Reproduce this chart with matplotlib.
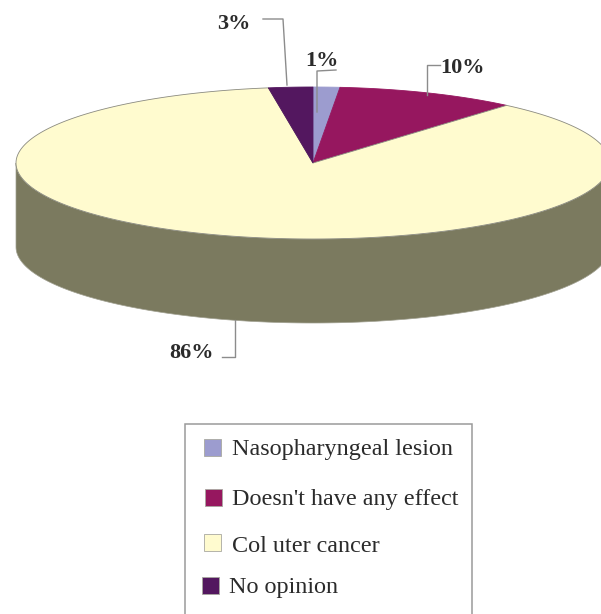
"""3D-style pie of survey answers, drawn as polygons on a pixel-sized axes."""

import numpy as np
import matplotlib
matplotlib.use("Agg")
import matplotlib.pyplot as plt
from matplotlib.patches import Rectangle

categories = ["Nasopharyngeal lesion", "Doesn't have any effect", "Col uter cancer", "No opinion"]
# slice sizes as drawn in the picture; the printed labels are rounded
values = [1.45, 9.85, 86.3, 2.4]
pct_labels = ["1%", "10%", "86%", "3%"]

COLORS = ["#9c9ccf", "#96175f", "#fffbcf", "#53175f"]
SIDE = "#7b7a5f"
EDGE = "#8a8a80"
LEADER = "#8c8c8c"
INK = "#2b2b2b"

CX, CY, RX, RY, DEPTH = 313, 163, 297, 76, 84

plt.rcParams["font.family"] = ["Liberation Serif", "DejaVu Serif"]

W, H = 601, 614
fig = plt.figure(figsize=(W / 100, H / 100), dpi=100, facecolor="white")
ax = fig.add_axes([0, 0, 1, 1])
ax.set_xlim(0, W)
ax.set_ylim(H, 0)
ax.axis("off")


def rim(t_deg):
    t = np.radians(t_deg)
    return CX + RX * np.cos(t), CY - RY * np.sin(t)


# slices run clockwise from straight up
ends = 90 - np.cumsum(values) * 3.6
starts = np.concatenate(([90], ends[:-1]))

# side wall first, only the part of each slice facing the viewer
for a0, a1 in zip(starts, ends):
    lo, hi = max(a1, -180), min(a0, 0)
    if hi <= lo:
        continue
    t = np.linspace(lo, hi, 200)
    x, y = rim(t)
    ax.fill(np.r_[x, x[::-1]], np.r_[y, y[::-1] + DEPTH],
            fc=SIDE, ec="#a0a090", lw=0.5, zorder=1)

# top face
for a0, a1, c in zip(starts, ends, COLORS):
    t = np.linspace(a0, a1, 300)
    x, y = rim(t)
    ax.fill(np.r_[CX, x], np.r_[CY, y], fc=c, ec=EDGE if c == COLORS[2] else c,
            lw=0.6, zorder=2)

# percent labels and their leader lines
label_pos = [(322, 61), (462, 68), (192, 353), (234, 24)]
leaders = [
    ([336, 317, 317], [70, 71, 112]),
    ([440, 427, 427], [65, 65, 95]),
    ([222, 235, 235], [357, 357, 320]),
    ([263, 283, 287], [19, 19, 85]),
]
for lab, (tx, ty), (lx, ly) in zip(pct_labels, label_pos, leaders):
    ax.plot(lx, ly, color=LEADER, lw=1, zorder=3)
    ax.text(tx, ty, lab, ha="center", va="center", fontsize=16,
            fontweight="bold", color=INK, zorder=4)

# legend box runs off the bottom of the picture
ax.add_patch(Rectangle((185, 424), 287, 220, fc="white", ec="#9a9a9a", lw=1.1,
                       clip_on=True, zorder=3))
swatch_x = [204, 205, 204, 202]
swatch_y = [439, 489, 534, 577]
text_x = [232, 232, 232, 229]
text_y = [450, 499, 546, 587]
for c, cat, sx, sy, tx, ty in zip(COLORS, categories, swatch_x, swatch_y, text_x, text_y):
    ax.add_patch(Rectangle((sx, sy), 17, 17, fc=c, ec="#a8a8a0", lw=0.6, zorder=4))
    ax.text(tx, ty, cat, ha="left", va="center", fontsize=17.4, color=INK, zorder=4)

fig.savefig("out.png", dpi=100, facecolor="white")
